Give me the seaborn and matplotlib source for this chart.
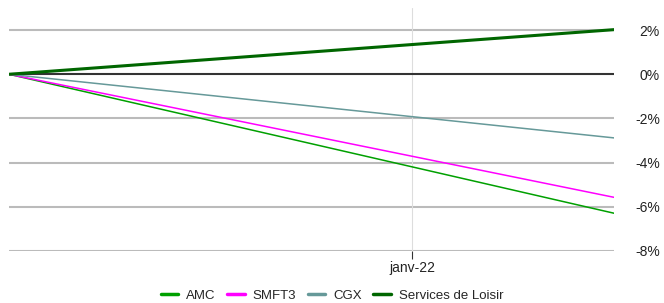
import matplotlib
matplotlib.use("Agg")
import matplotlib.pyplot as plt
import matplotlib.dates as mdates
from matplotlib.ticker import FuncFormatter, FixedLocator
from matplotlib.lines import Line2D
import seaborn as sns
import pandas as pd

dates = ["2021-12-12", "2022-01-11"]
series_names = ["AMC", "SMFT3", "CGX", "Services de Loisir"]
amc = [0.0, -6.29]
smft3 = [0.0, -5.57]
cgx = [0.0, -2.88]
loisir = [0.0, 2.02]
colors = ["#00a000", "#ff00ff", "#669999", "#006600"]
widths = [1.1, 1.1, 1.1, 2.2]
y_ticks = [2, 0, -2, -4, -6, -8]

sns.set_theme(style="white")
plt.rcParams["font.family"] = ["Liberation Sans", "DejaVu Sans"]

rows = []
for name, vals in zip(series_names, [amc, smft3, cgx, loisir]):
    for d, v in zip(dates, vals):
        rows.append({"date": pd.Timestamp(d), "value": v, "series": name})
df = pd.DataFrame(rows)

fig = plt.figure(figsize=(6.64, 3.03), dpi=100)
ax = fig.add_axes([9 / 664, 1 - 251 / 303, (614 - 9) / 664, (251 - 8) / 303])

for y in [2, -2, -4, -6, -8]:
    ax.axhline(y, color="#bbbbbb", lw=1.5, zorder=0)
ax.axvline(pd.Timestamp("2022-01-01"), color="#dddddd", lw=0.8, zorder=0)
ax.axhline(0, color="#333333", lw=1.5, zorder=1)

sns.lineplot(data=df, x="date", y="value", hue="series", hue_order=series_names,
             palette=colors, ax=ax, legend=False)
for line, w in zip(ax.get_lines()[-4:], widths):
    line.set_linewidth(w)

ax.set_xlim(pd.Timestamp(dates[0]), pd.Timestamp(dates[1]))
ax.set_ylim(-8, 3)
ax.yaxis.tick_right()
ax.yaxis.set_major_locator(FixedLocator(y_ticks))
ax.yaxis.set_major_formatter(FuncFormatter(lambda v, p: f"{v:.0f}%"))
ax.xaxis.set_major_locator(FixedLocator([mdates.date2num(pd.Timestamp("2022-01-01"))]))
ax.xaxis.set_major_formatter(FuncFormatter(lambda v, p: "janv-22"))
ax.tick_params(axis="y", length=0, pad=33, labelsize=10, colors="#222222")
for lbl in ax.get_yticklabels():
    lbl.set_horizontalalignment("right")
ax.tick_params(axis="x", length=6, width=0.8, color="#333333", pad=1, labelsize=10, labelcolor="#222222", bottom=True)
ax.set_xlabel("")
ax.set_ylabel("")
for s in ax.spines.values():
    s.set_visible(False)

handles = [Line2D([0], [0], color=c, lw=2.5) for c in colors]
fig.legend(handles, series_names, loc="lower center", ncol=4, frameon=False,
           bbox_to_anchor=(0.5, -0.035), fontsize=9.5, handlelength=1.3,
           handletextpad=0.6, columnspacing=0.9)

fig.savefig("out.png", dpi=100)
